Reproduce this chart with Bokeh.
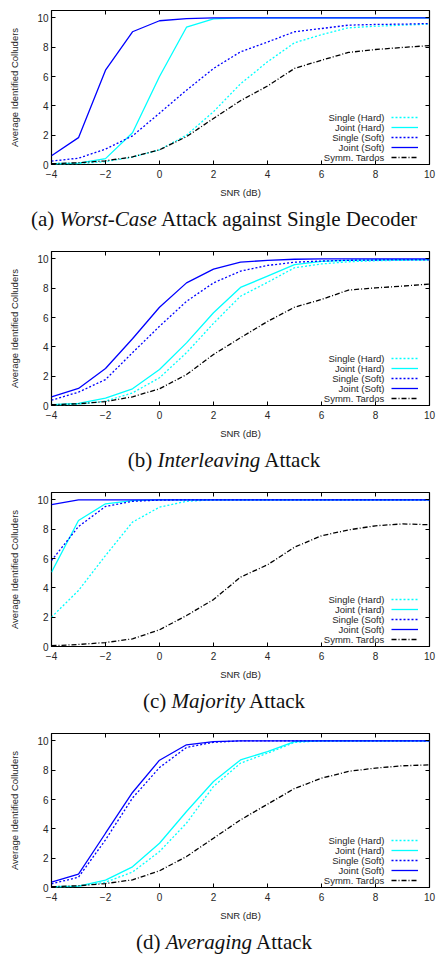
from bokeh.plotting import figure
from bokeh.models import LinearAxis, Range1d, Legend, LegendItem, Label, Div, FixedTicker
from bokeh.core.properties import value
from bokeh.layouts import column
from bokeh.embed import file_html
from bokeh.resources import INLINE

snr = list(range(-4, 11))
x_ticks = [-4, -2, 0, 2, 4, 6, 8, 10]
y_ticks = [0, 2, 4, 6, 8, 10]

series_names = ["Single (Hard)", "Joint (Hard)", "Single (Soft)", "Joint (Soft)", "Symm. Tardos"]

# (a) Worst-Case attack against single decoder
single_hard_a = [0.02, 0.05, 0.2, 0.5, 1.0, 2.0, 3.6, 5.5, 7.0, 8.3, 8.85, 9.32, 9.43, 9.5, 9.57]
joint_hard_a = [0.05, 0.1, 0.4, 2.16, 6.0, 9.36, 9.93, 10, 10, 10, 10, 10, 10, 10, 10]
single_soft_a = [0.23, 0.43, 1.05, 1.95, 3.5, 5.07, 6.55, 7.68, 8.35, 9.05, 9.27, 9.5, 9.55, 9.57, 9.61]
joint_soft_a = [0.6, 1.83, 6.43, 9.05, 9.8, 9.95, 10, 10, 10, 10, 10, 10, 10, 10, 10]
tardos_a = [0.05, 0.12, 0.25, 0.52, 1.0, 1.9, 3.14, 4.35, 5.35, 6.55, 7.11, 7.64, 7.84, 7.98, 8.11]

# (b) Interleaving attack
single_hard_b = [0.03, 0.08, 0.3, 0.86, 1.89, 3.6, 5.6, 7.45, 8.4, 9.39, 9.65, 9.8, 9.87, 9.9, 9.92]
joint_hard_b = [0.05, 0.14, 0.5, 1.14, 2.45, 4.27, 6.32, 8.05, 8.82, 9.6, 9.82, 9.9, 9.93, 9.95, 9.95]
single_soft_b = [0.36, 0.91, 1.77, 3.6, 5.4, 7.1, 8.36, 9.16, 9.55, 9.77, 9.85, 9.9, 9.92, 9.93, 9.93]
joint_soft_b = [0.59, 1.16, 2.52, 4.55, 6.7, 8.36, 9.3, 9.77, 9.9, 9.97, 10, 10, 10, 10, 10]
tardos_b = [0.05, 0.12, 0.27, 0.59, 1.14, 2.11, 3.48, 4.62, 5.73, 6.7, 7.23, 7.87, 8.02, 8.14, 8.28]

# (c) Majority attack
single_hard_c = [2.0, 3.82, 6.2, 8.48, 9.5, 9.9, 10, 10, 10, 10, 10, 10, 10, 10, 10]
joint_hard_c = [5.07, 8.59, 9.73, 9.95, 10, 10, 10, 10, 10, 10, 10, 10, 10, 10, 10]
single_soft_c = [5.86, 8.18, 9.55, 9.9, 9.98, 10, 10, 10, 10, 10, 10, 10, 10, 10, 10]
joint_soft_c = [9.68, 10, 10, 10, 10, 10, 10, 10, 10, 10, 10, 10, 10, 10, 10]
tardos_c = [0.05, 0.14, 0.27, 0.52, 1.14, 2.11, 3.2, 4.73, 5.57, 6.77, 7.55, 7.95, 8.23, 8.36, 8.3]

# (d) Averaging attack
single_hard_d = [0.02, 0.08, 0.36, 1.05, 2.45, 4.39, 6.89, 8.48, 9.16, 9.89, 10, 10, 10, 10, 10]
joint_hard_d = [0.05, 0.1, 0.5, 1.41, 3.02, 5.18, 7.23, 8.7, 9.27, 9.95, 10, 10, 10, 10, 10]
single_soft_d = [0.25, 0.7, 3.25, 6.1, 8.18, 9.55, 9.9, 10, 10, 10, 10, 10, 10, 10, 10]
joint_soft_d = [0.36, 0.91, 3.7, 6.48, 8.68, 9.73, 9.95, 10, 10, 10, 10, 10, 10, 10, 10]
tardos_d = [0.05, 0.12, 0.27, 0.52, 1.14, 2.11, 3.36, 4.61, 5.68, 6.75, 7.45, 7.92, 8.14, 8.3, 8.36]

captions = [
    '(a) <i>Worst-Case</i> Attack against Single Decoder',
    '(b) <i>Interleaving</i> Attack',
    '(c) <i>Majority</i> Attack',
    '(d) <i>Averaging</i> Attack',
]
panel_data = [
    [single_hard_a, joint_hard_a, single_soft_a, joint_soft_a, tardos_a],
    [single_hard_b, joint_hard_b, single_soft_b, joint_soft_b, tardos_b],
    [single_hard_c, joint_hard_c, single_soft_c, joint_soft_c, tardos_c],
    [single_hard_d, joint_hard_d, single_soft_d, joint_soft_d, tardos_d],
]

styles = [
    dict(line_color="#00ffff", line_dash="2 2"),
    dict(line_color="#00ffff", line_dash="solid"),
    dict(line_color="#0000ff", line_dash="2 2"),
    dict(line_color="#0000ff", line_dash="solid"),
    dict(line_color="#000000", line_dash="5 2 1 2"),
]

SANS = "Liberation Sans"
TXT = "#262626"


def style_axis(ax, labels=True):
    ax.axis_line_color = None
    ax.major_tick_in = 4
    ax.major_tick_out = 0
    ax.major_tick_line_color = "black"
    ax.major_tick_line_width = 1
    ax.minor_tick_line_color = None
    ax.major_label_text_font = SANS
    if labels:
        ax.major_label_text_font_size = "10px"
        ax.major_label_text_color = TXT
    else:
        ax.major_label_text_font_size = "1px"
        ax.major_label_text_color = None
        ax.major_label_standoff = 0
    ax.axis_label_text_font = SANS
    ax.axis_label_text_font_size = "9.5px"
    ax.axis_label_text_font_style = "normal"
    ax.axis_label_text_color = TXT


def make_panel(data):
    p = figure(width=439, height=205, x_range=Range1d(-4, 10), y_range=Range1d(0, 10.5),
               output_backend="svg", toolbar_location=None,
               min_border_left=51, min_border_right=10, min_border_top=10, min_border_bottom=41)
    p.grid.visible = False
    p.outline_line_color = "black"
    p.outline_line_width = 1.2
    p.background_fill_color = "white"
    p.border_fill_color = "white"

    p.xaxis.ticker = FixedTicker(ticks=x_ticks)
    p.yaxis.ticker = FixedTicker(ticks=y_ticks)
    for ax in p.xaxis + p.yaxis:
        style_axis(ax)
    p.xaxis.axis_label = "SNR (dB)"
    p.yaxis.axis_label = "Average Identified Colluders"
    p.xaxis.major_label_standoff = 5
    p.xaxis.axis_label_standoff = 6
    p.yaxis.major_label_standoff = 3
    p.yaxis.axis_label_standoff = 14

    top = LinearAxis(ticker=FixedTicker(ticks=x_ticks))
    style_axis(top, labels=False)
    p.add_layout(top, "above")
    right = LinearAxis(ticker=FixedTicker(ticks=y_ticks))
    style_axis(right, labels=False)
    p.add_layout(right, "right")

    items = []
    for vals, st in zip(data, styles):
        r = p.line(snr, vals, line_width=1.3, **st)
        items.append(LegendItem(label=value(""), renderers=[r]))

    legend = Legend(items=items, location=(340, 2), glyph_width=27, glyph_height=10,
                    spacing=0, padding=0, margin=0, label_width=0, label_height=0,
                    label_standoff=0, label_text_font_size="1px", label_text_color=None,
                    border_line_color=None, background_fill_alpha=0)
    p.add_layout(legend, "center")

    n = len(series_names)
    for i, name in enumerate(series_names):
        p.add_layout(Label(x=333, y=2 + 5 + 10 * (n - 1 - i), x_units="screen", y_units="screen",
                           text=name, text_align="right", text_baseline="middle",
                           text_font=SANS, text_font_size="9.5px", text_color=TXT))
    return p


rows = []
for i, (cap, data) in enumerate(zip(captions, panel_data)):
    rows.append(make_panel(data))
    h = 36 if i < 3 else 28
    rows.append(Div(text='<div style="width:439px;box-sizing:border-box;padding-left:9px;text-align:center;'
                         'font-family:\'Liberation Serif\';font-size:21px;line-height:28px;color:#111;'
                         'white-space:nowrap;">' + cap + '</div>',
                    width=439, height=h, margin=0))

layout = column(*rows, spacing=0)
open("out.html", "w").write(file_html(layout, INLINE))
